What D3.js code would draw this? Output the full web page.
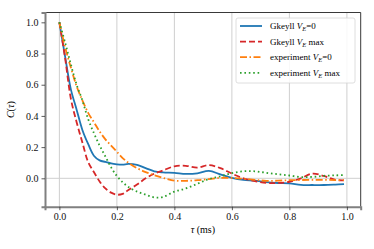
<!DOCTYPE html>
<html>
<head>
<meta charset="utf-8">
<script src="https://cdn.jsdelivr.net/npm/d3@7"></script>
<style>
  body { margin: 0; background: #fff; }
  text { font-family: "Liberation Serif", "DejaVu Serif", serif; }
</style>
</head>
<body>
<div id="chart"></div>
<script>
// tau (ms) sample points
const tau = [0, 0.02, 0.04, 0.06, 0.08, 0.10, 0.12, 0.14, 0.16, 0.18, 0.20, 0.22, 0.24, 0.27, 0.30, 0.33, 0.36,
             0.40, 0.44, 0.48, 0.52, 0.56, 0.60, 0.64, 0.68, 0.72, 0.76, 0.80, 0.84, 0.88, 0.92, 0.96, 0.99];

const gkeyll0 = [1.0, 0.78, 0.57, 0.44, 0.31, 0.22, 0.145, 0.115, 0.105, 0.095, 0.09, 0.088, 0.092, 0.086, 0.065, 0.045, 0.038,
                 0.035, 0.028, 0.032, 0.048, 0.025, 0.003, -0.01, -0.015, -0.025, -0.03, -0.032, -0.042, -0.043, -0.043, -0.04, -0.037];
const gkeyllMax = [1.0, 0.77, 0.51, 0.36, 0.23, 0.105, 0.04, -0.02, -0.065, -0.092, -0.105, -0.1, -0.075, -0.04, 0.0, 0.03, 0.05,
                   0.077, 0.08, 0.068, 0.085, 0.065, 0.03, 0.0, -0.018, -0.03, -0.03, -0.022, 0.0, 0.03, 0.015, -0.01, -0.013];
const exp0 = [1.0, 0.84, 0.71, 0.59, 0.50, 0.42, 0.36, 0.30, 0.25, 0.21, 0.17, 0.13, 0.10, 0.065, 0.04, 0.02, 0.003,
              -0.015, -0.016, -0.012, -0.005, 0.003, 0.002, -0.003, -0.01, -0.016, -0.015, -0.012, -0.011, -0.01, -0.01, -0.011, -0.011];
const expMax = [1.0, 0.87, 0.73, 0.60, 0.50, 0.38, 0.29, 0.21, 0.14, 0.07, 0.015, -0.025, -0.055, -0.085, -0.105, -0.122, -0.12,
                -0.085, -0.065, -0.035, -0.005, 0.013, 0.033, 0.045, 0.045, 0.035, 0.026, 0.018, 0.008, 0.009, 0.016, 0.019, 0.021];

const xTicks = [0.0, 0.2, 0.4, 0.6, 0.8, 1.0];
const yTicks = [0.0, 0.2, 0.4, 0.6, 0.8, 1.0];

const series = [
    { name: "Gkeyll", tail: "=0", values: gkeyll0, color: "#1f77b4", dash: null },
    { name: "Gkeyll", tail: " max", values: gkeyllMax, color: "#d62728", dash: "6,3" },
    { name: "experiment", tail: "=0", values: exp0, color: "#ff7f0e", dash: "7,2.5,1.5,2.5" },
    { name: "experiment", tail: " max", values: expMax, color: "#2ca02c", dash: "1.6,2.8" }
];

const width = 374, height = 249;
const margin = { left: 45, right: 13.3, top: 12.5, bottom: 42.3 };

const svg = d3.select("#chart").append("svg")
    .attr("width", width)
    .attr("height", height);

const x = d3.scaleLinear().domain([-0.05, 1.048]).range([margin.left, width - margin.right]);
const y = d3.scaleLinear().domain([-0.182, 1.063]).range([height - margin.bottom, margin.top]);

// grid: vertical at x ticks, horizontal at 0
svg.append("g").selectAll("line").data(xTicks).join("line")
    .attr("x1", d => x(d)).attr("x2", d => x(d))
    .attr("y1", margin.top).attr("y2", height - margin.bottom)
    .attr("stroke", "#cfcfcf").attr("stroke-width", 1);
svg.append("line")
    .attr("x1", margin.left).attr("x2", width - margin.right)
    .attr("y1", y(0)).attr("y2", y(0))
    .attr("stroke", "#cfcfcf").attr("stroke-width", 1);

// curves
const line = d3.line()
    .x((d, i) => x(tau[i]))
    .y(d => y(d))
    .curve(d3.curveCatmullRom.alpha(0.5));

series.forEach(s => {
    svg.append("path")
        .attr("d", line(s.values))
        .attr("fill", "none")
        .attr("stroke", s.color)
        .attr("stroke-width", 1.8)
        .attr("stroke-dasharray", s.dash);
});

// spines
svg.append("line").attr("x1", margin.left).attr("x2", width - margin.right)
    .attr("y1", margin.top).attr("y2", margin.top).attr("stroke", "#222").attr("stroke-width", 0.9);
svg.append("line").attr("x1", width - margin.right).attr("x2", width - margin.right)
    .attr("y1", margin.top).attr("y2", height - margin.bottom).attr("stroke", "#222").attr("stroke-width", 0.9);

// axes
const xAxis = svg.append("g")
    .attr("transform", `translate(0,${height - margin.bottom})`)
    .call(d3.axisBottom(x).tickValues(xTicks).tickFormat(d3.format(".1f")).tickSize(3.5).tickPadding(3));
const yAxis = svg.append("g")
    .attr("transform", `translate(${margin.left},0)`)
    .call(d3.axisLeft(y).tickValues(yTicks).tickFormat(d3.format(".1f")).tickSize(3.5).tickPadding(3));

[xAxis, yAxis].forEach(a => {
    a.select(".domain").attr("stroke", "#808080").attr("stroke-width", 2);
    a.selectAll(".tick line").attr("stroke", "#333").attr("stroke-width", 0.8);
    a.selectAll(".tick text")
        .attr("fill", "#111")
        .style("font-family", '"Liberation Serif", serif')
        .style("font-size", "10px");
});

// axis labels
const yl = svg.append("text")
    .attr("transform", `translate(14,${(margin.top + height - margin.bottom) / 2}) rotate(-90)`)
    .attr("text-anchor", "middle")
    .attr("font-size", "10px");
yl.append("tspan").attr("font-style", "italic").text("C");
yl.append("tspan").text("(");
yl.append("tspan").attr("font-style", "italic").text("τ");
yl.append("tspan").text(")");

const xl = svg.append("text")
    .attr("x", (margin.left + width - margin.right) / 2)
    .attr("y", 233)
    .attr("text-anchor", "middle")
    .attr("font-size", "10px");
xl.append("tspan").attr("font-style", "italic").text("τ");
xl.append("tspan").text(" (ms)");

// legend
const legend = svg.append("g");
legend.append("rect")
    .attr("x", 236).attr("y", 18)
    .attr("width", 119).attr("height", 65)
    .attr("rx", 2)
    .attr("fill", "#fff").attr("fill-opacity", 0.85)
    .attr("stroke", "#d6d6d6").attr("stroke-width", 0.8);

series.forEach((s, i) => {
    const ly = 26 + i * 15.6;
    legend.append("line")
        .attr("x1", 240).attr("x2", 262)
        .attr("y1", ly).attr("y2", ly)
        .attr("stroke", s.color).attr("stroke-width", 1.8)
        .attr("stroke-dasharray", s.dash);
    const t = legend.append("text")
        .attr("x", 270).attr("y", ly + 3.2)
        .attr("font-size", "9px");
    t.append("tspan").text(s.name + " ");
    t.append("tspan").attr("font-style", "italic").text("V");
    t.append("tspan").attr("font-style", "italic").attr("font-size", "6.5px").attr("dy", 2).text("E");
    t.append("tspan").attr("dy", -2).text(s.tail);
});
</script>
</body>
</html>
